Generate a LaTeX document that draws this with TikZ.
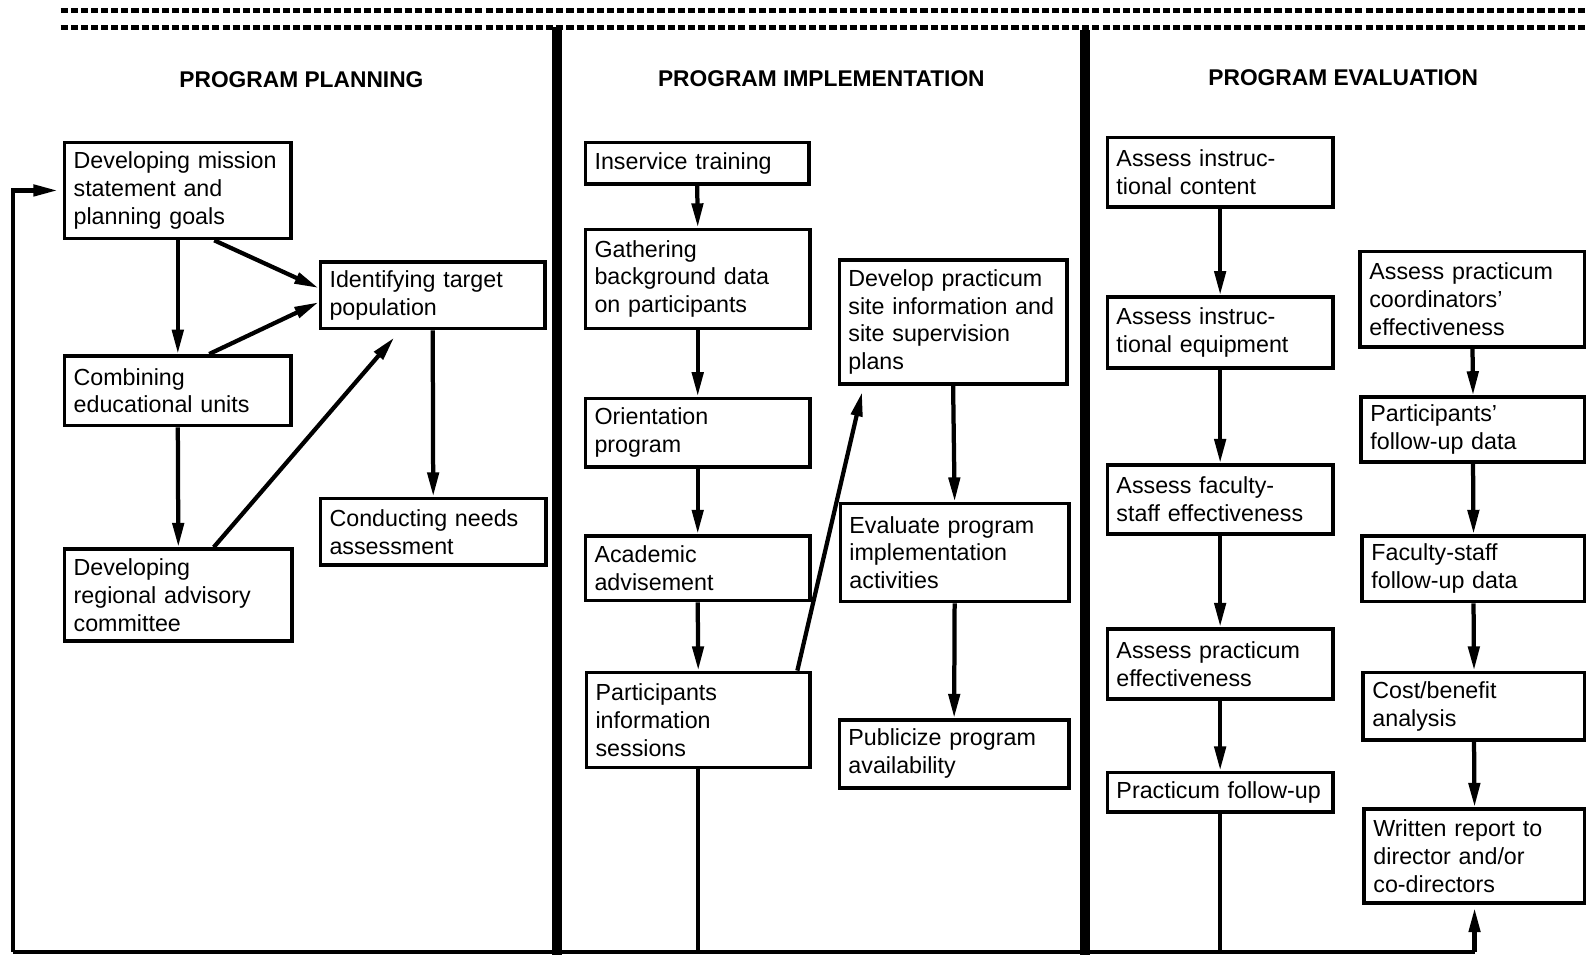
\documentclass[tikz,border=0pt]{standalone}
\usepackage{fontspec}
\setmainfont{Liberation Sans}
\usetikzlibrary{arrows.meta}
\tikzset{
  box/.style={draw, line width=3.6pt, inner xsep=9pt, inner ysep=3pt, align=left,
    font=\fontsize{23}{27.5}\selectfont},
  hdr/.style={font=\fontsize{22.5}{26}\selectfont\bfseries},
  conn/.style={line width=4.2pt},
  arr/.style={conn, -{Triangle[length=24pt,width=11pt]}},
  sep/.style={line width=10pt},
  dashrule/.style={line width=5pt, dash pattern=on 7pt off 3pt},
}
\newcommand\flowbox[6]{%
  \node[box, anchor=north west, minimum width={#4-#2}, minimum height={#5-#3},
    text width={#4-#2-18}] (#1) at (#2,#3) {#6};}
\begin{document}
\begin{tikzpicture}[x=1pt,y=-1pt]
\useasboundingbox (0,0) rectangle (1568,944);
\fill[white] (0,0) rectangle (1568,944);

% top rules and separators
\coordinate (t1a) at (60,10);  \coordinate (t1b) at (1568,10);
\coordinate (t2a) at (60,27);  \coordinate (t2b) at (1568,27);
\draw[dashrule] (t1a) -- (t1b);
\draw[dashrule] (t2a) -- (t2b);
\coordinate (s1a) at (551,27);  \coordinate (s1b) at (551,944);
\coordinate (s2a) at (1073,30); \coordinate (s2b) at (1073,944);
\draw[sep] (s1a) -- (s1b);
\draw[sep] (s2a) -- (s2b);

% headers
\node[hdr] (h1) at (298,79) {PROGRAM PLANNING};
\node[hdr] (h2) at (812,78) {PROGRAM IMPLEMENTATION};
\node[hdr] (h3) at (1328,77) {PROGRAM EVALUATION};

% column 1
\flowbox{B1}{62}{139}{286}{234}{Developing mission\\statement and\\planning goals}
\flowbox{B2}{315}{257}{537}{323}{Identifying target\\population}
\flowbox{B3}{62}{350}{286}{419}{Combining\\educational units}
\flowbox{B4}{315}{491}{538}{557}{Conducting needs\\assessment}
\flowbox{B5}{62}{541}{287}{632}{Developing\\regional advisory\\committee}

% column 2
\flowbox{C1}{577}{139}{798}{180}{Inservice training}
\flowbox{C2}{577}{225}{799}{323}{Gathering\\background data\\on participants}
\flowbox{C3}{577}{392}{799}{460}{Orientation\\program}
\flowbox{C4}{577}{528}{799}{592}{Academic\\advisement}
\flowbox{C5}{578}{663}{799}{757}{Participants\\information\\sessions}
\flowbox{C6}{828}{255}{1053}{378}{Develop practicum\\site information and\\site supervision\\plans}
\flowbox{C7}{829}{496}{1055}{593}{Evaluate program\\implementation\\activities}
\flowbox{C8}{828}{710}{1055}{777}{Publicize program\\availability}

% column 3
\flowbox{D1}{1093}{134}{1316}{203}{Assess instruc-\\tional content}
\flowbox{D2}{1093}{292}{1316}{362}{Assess instruc-\\tional equipment}
\flowbox{D3}{1093}{458}{1316}{526}{Assess faculty-\\staff effectiveness}
\flowbox{D4}{1093}{620}{1316}{689}{Assess practicum\\effectiveness}
\flowbox{D5}{1093}{762}{1316}{801}{Practicum follow-up}
\flowbox{E1}{1343}{247}{1565}{341}{Assess practicum\\coordinators'\\effectiveness}
\flowbox{E2}{1344}{391}{1565}{455}{Participants'\\follow-up data}
\flowbox{E3}{1345}{528}{1565}{593}{Faculty-staff\\follow-up data}
\flowbox{E4}{1346}{663}{1565}{730}{Cost/benefit\\analysis}
\flowbox{E5}{1347}{798}{1565}{891}{Written report to\\director and/or\\co-directors}

% planning arrows
\draw[arr] (B1.south) -- (B3.north);
\draw[arr] (B3.south) -- (B5.north);
\draw[arr] ([xshift=36pt]B1.south) -- ([yshift=7pt]B2.west);
\draw[arr] ([xshift=31pt]B3.north) -- ([yshift=-7pt]B2.west);
\draw[arr] ([xshift=35pt]B5.north) -- ([xshift=-38pt,yshift=-7pt]B2.south);
\draw[arr] (B2.south) -- (B4.north);

% implementation arrows
\draw[arr] (C1.south) -- (C2.north);
\draw[arr] (C2.south) -- (C3.north);
\draw[arr] (C3.south) -- (C4.north);
\draw[arr] (C4.south) -- (C5.north);
\draw[arr] ([xshift=98pt]C5.north) -- ([xshift=-90pt,yshift=-6pt]C6.south);
\draw[arr] (C6.south) -- (C7.north);
\draw[arr] (C7.south) -- (C8.north);

% evaluation arrows
\draw[arr] (D1.south) -- (D2.north);
\draw[arr] (D2.south) -- (D3.north);
\draw[arr] (D3.south) -- (D4.north);
\draw[arr] (D4.south) -- (D5.north);
\draw[arr] (E1.south) -- (E2.north);
\draw[arr] (E2.south) -- (E3.north);
\draw[arr] (E3.south) -- (E4.north);
\draw[arr] (E4.south) -- (E5.north);

% feedback loop along the bottom
\coordinate (bl) at (13,941);
\draw[conn] (C5.south) -- (C5.south |- bl);
\draw[conn] (D5.south) -- (D5.south |- bl);
\draw[conn] (bl) -- (E5.south |- bl);
\draw[arr] (E5.south |- bl) -- ([yshift=-3pt]E5.south);
\draw[arr] (bl) |- ([xshift=-5pt]B1.west);
\end{tikzpicture}
\end{document}
